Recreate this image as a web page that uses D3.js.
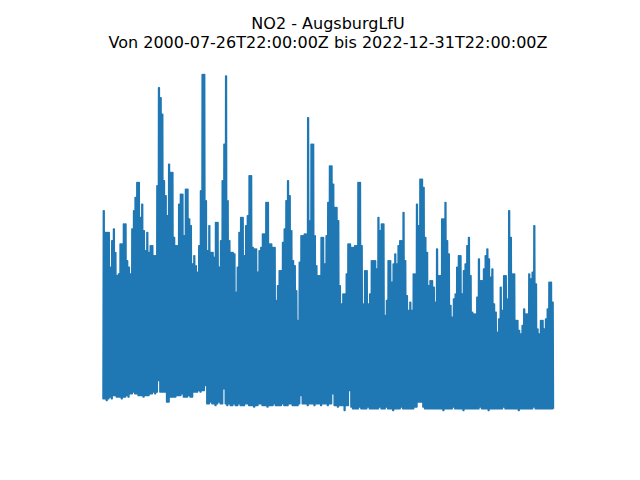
<!DOCTYPE html>
<html>
<head>
<meta charset="utf-8">
<script src="https://cdn.jsdelivr.net/npm/d3@7"></script>
<style>
  body { margin: 0; background: #fff; }
  text { font-family: "DejaVu Sans", sans-serif; }
</style>
</head>
<body>
<svg id="chart"></svg>
<script>
// NO2 - AugsburgLfU, Stundenwerte zusammengefasst als Monats-Max / Monats-Min

const station = "NO2 - AugsburgLfU"
const startDate = "2000-07-26T22:00:00Z"
const endDate = "2022-12-31T22:00:00Z"

// erster Monat: August 2000
const firstMonth = [2000, 7]

// Monatsmaxima (ug/m3), Aug 2000 .. Dez 2022
const maxVals = [
  120,107,107,107,86,102,109,95,81,82,100,100,112,112,90,86,82,109,120,128,
  137,137,116,124,108,96,107,95,99,99,93,93,135,194,188,178,138,129,117,148,
  143,143,104,99,99,124,130,130,105,133,133,115,111,88,93,87,83,99,132,202,
  202,126,96,111,95,95,92,113,113,86,102,138,160,201,126,102,95,95,94,71,
  86,107,116,116,93,111,117,141,141,98,97,97,83,96,98,106,106,125,125,100,
  100,98,98,66,75,84,84,101,109,126,138,129,108,90,87,72,54,89,105,105,
  106,106,176,114,160,160,105,87,81,81,104,104,88,105,125,147,147,136,122,122,
  114,75,64,70,70,82,100,100,98,98,99,99,137,137,99,64,84,84,64,70,
  90,90,90,85,116,108,112,112,57,66,90,90,77,88,94,88,99,102,102,119,
  90,69,60,65,60,82,82,124,111,139,139,134,104,95,75,78,78,74,65,97,
  81,81,115,115,125,102,94,63,56,67,70,86,93,93,70,84,88,99,104,81,
  59,58,58,68,91,78,78,85,93,97,91,80,85,64,59,47,55,74,60,81,
  81,67,120,104,82,82,54,54,48,46,51,61,58,58,82,79,83,111,76,49,
  46,54,54,49,55,61,77,77,65
]

// Monatsminima (ug/m3)
const minVals = [
  7,7,6,7,8,7,9,9,8,8,8,7,8,8,9,8,10,10,11,10,
  10,9,9,9,8,9,9,9,10,10,11,10,11,18,11,11,11,11,5,5,
  8,8,8,8,9,9,9,10,8,8,8,9,8,8,11,11,11,12,11,12,
  12,15,4,4,5,4,4,3,4,5,4,4,13,4,3,4,3,3,4,3,
  3,4,3,3,3,4,4,3,3,3,2,3,3,4,4,3,3,3,2,3,
  3,3,4,3,3,3,3,4,3,3,3,4,4,3,3,3,3,4,9,4,
  4,4,3,4,4,4,3,4,4,4,3,4,4,4,3,4,4,10,3,3,
  2,3,3,3,0,3,3,12,2,1,1,1,1,2,1,1,1,1,2,1,
  1,1,1,1,1,2,1,1,1,2,1,1,1,0,1,1,1,1,2,1,
  1,1,1,1,1,1,2,2,5,5,5,2,1,1,1,1,1,1,1,1,
  1,1,1,0,1,1,1,1,1,2,1,1,1,1,1,0,1,1,1,1,
  1,1,1,1,1,2,1,1,1,1,0,1,1,1,1,1,1,1,1,2,
  1,1,1,1,1,1,1,1,0,1,1,1,1,1,1,1,1,2,1,1,
  1,1,1,1,1,1,1,1,1
]

var width = 640,
    height = 480
// matplotlib Standard-Achsen
var ax = {left: 80, right: 576, top: 57.6, bottom: 427.2}

const svg = d3.select("#chart")
  .attr("width", width)
  .attr("height", height)

// Reihe: pro Monat zweimal Min und Max (dichte Stundenwerte)
var data = [{t: new Date(startDate), v: minVals[0]}]
maxVals.forEach((m, i) => {
  var yr = firstMonth[0], mo = firstMonth[1] + i
  data.push({t: new Date(Date.UTC(yr, mo, 4)), v: minVals[i]})
  data.push({t: new Date(Date.UTC(yr, mo, 11)), v: m})
  data.push({t: new Date(Date.UTC(yr, mo, 18)), v: minVals[i]})
  data.push({t: new Date(Date.UTC(yr, mo, 25)), v: m})
})
data.push({t: new Date(endDate), v: minVals[minVals.length - 1]})

// 5% Rand wie bei matplotlib
function pad(ext) {
  var d = (ext[1] - ext[0]) * 0.05
  return [ext[0] - d, ext[1] + d]
}
var tExt = d3.extent(data, d => +d.t)
var vExt = d3.extent(data, d => d.v)

const x = d3.scaleTime()
  .domain(pad(tExt).map(t => new Date(t)))
  .range([ax.left, ax.right])
const y = d3.scaleLinear()
  .domain(pad(vExt))
  .range([ax.bottom, ax.top])

const line = d3.line()
  .x(d => x(d.t))
  .y(d => y(d.v))

svg.append("path")
  .datum(data)
  .attr("d", line)
  .attr("fill", "none")
  .attr("stroke", "#1f77b4")
  .attr("stroke-width", 1.5)
  .attr("stroke-linejoin", "round")

// Titel (zwei Zeilen)
var cx = (ax.left + ax.right) / 2
svg.append("text")
  .attr("x", cx)
  .attr("y", 29)
  .attr("text-anchor", "middle")
  .attr("font-size", "16px")
  .text(station)
svg.append("text")
  .attr("x", cx)
  .attr("y", 48)
  .attr("text-anchor", "middle")
  .attr("font-size", "16px")
  .text("Von " + startDate + " bis " + endDate)
</script>
</body>
</html>
